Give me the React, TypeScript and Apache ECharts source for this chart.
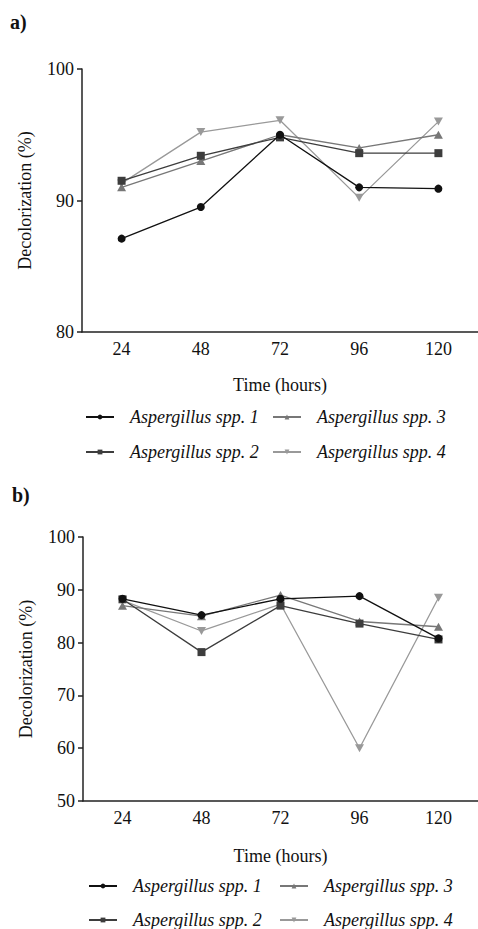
import React, { useEffect, useRef } from "react";
import * as echarts from "echarts";

const hours = ["24", "48", "72", "96", "120"];
const seriesNames = ["Aspergillus spp. 1", "Aspergillus spp. 2", "Aspergillus spp. 3", "Aspergillus spp. 4"];

const aSpp1 = [87.1, 89.5, 95.0, 91.0, 90.9];
const aSpp2 = [91.5, 93.4, 94.8, 93.6, 93.6];
const aSpp3 = [91.0, 93.0, 95.0, 94.0, 95.0];
const aSpp4 = [91.3, 95.2, 96.1, 90.2, 96.0];

const bSpp1 = [88.3, 85.2, 88.3, 88.8, 80.8];
const bSpp2 = [88.2, 78.2, 87.0, 83.6, 80.6];
const bSpp3 = [87.0, 85.0, 89.0, 84.0, 83.0];
const bSpp4 = [88.0, 82.2, 87.3, 60.0, 88.5];

const yTitle = "Decolorization (%)";
const xTitle = "Time (hours)";

const colors = ["#111111", "#3d3d3d", "#777777", "#999999"];
const symbols = ["circle", "rect", "triangle", "path://M0,0 L10,0 L5,9 Z"];
const FONT = "Liberation Serif";

export default function App() {
  const ref = useRef<HTMLDivElement>(null);
  useEffect(() => {
    document.body.style.margin = "0";
    const chart = echarts.init(ref.current!, null, { renderer: "svg" });
    const axisColor = "#222";
    const mkX = (gi: number, gap: number) => ({
      type: "category",
      gridIndex: gi,
      data: hours,
      boundaryGap: true,
      name: xTitle,
      nameLocation: "middle",
      nameGap: gap,
      nameTextStyle: { fontFamily: FONT, fontSize: 18, color: "#111" },
      axisLine: { lineStyle: { color: axisColor, width: 1.5 } },
      axisTick: { alignWithLabel: true, length: 5, lineStyle: { color: axisColor, width: 1.5 } },
      axisLabel: { fontFamily: FONT, fontSize: 18, color: "#111", margin: 8 },
      splitLine: { show: false },
    });
    const mkY = (gi: number, min: number) => ({
      type: "value",
      gridIndex: gi,
      min,
      max: 100,
      interval: 10,
      name: yTitle,
      nameLocation: "middle",
      nameGap: 48,
      nameRotate: 90,
      nameTextStyle: { fontFamily: FONT, fontSize: 18, color: "#111" },
      axisLine: { show: true, lineStyle: { color: axisColor, width: 1.5 } },
      axisTick: { show: true, length: 5, lineStyle: { color: axisColor, width: 1.5 } },
      axisLabel: { fontFamily: FONT, fontSize: 18, color: "#111", margin: 8 },
      splitLine: { show: false },
    });
    const dataA = [aSpp1, aSpp2, aSpp3, aSpp4];
    const dataB = [bSpp1, bSpp2, bSpp3, bSpp4];
    const mkSeries = (data: number[][], gi: number) =>
      data.map((d, i) => ({
        type: "line",
        name: seriesNames[i],
        xAxisIndex: gi,
        yAxisIndex: gi,
        data: d,
        symbol: symbols[i],
        symbolSize: i >= 2 ? [9, 8] : 8,
        lineStyle: { color: colors[i], width: 1.3 },
        itemStyle: { color: colors[i] },
        z: 10 - i,
      }));
    const legendPos = [
      { name: seriesNames[0], left: 85, top: 408 },
      { name: seriesNames[2], left: 272, top: 408 },
      { name: seriesNames[1], left: 85, top: 443 },
      { name: seriesNames[3], left: 272, top: 443 },
      { name: seriesNames[0], left: 88, top: 877 },
      { name: seriesNames[2], left: 279, top: 877 },
      { name: seriesNames[1], left: 88, top: 911 },
      { name: seriesNames[3], left: 279, top: 911 },
    ];
    const legends = legendPos.map((p) => ({
      data: [p.name],
      left: p.left,
      top: p.top,
      padding: 0,
      itemWidth: 28,
      itemHeight: 6,
      selectedMode: false,
      textStyle: { fontFamily: FONT, fontSize: 18, fontStyle: "italic", color: "#111", padding: [0, 0, 0, 11] },
    }));
    chart.setOption({
      animation: false,
      backgroundColor: "#fff",
      textStyle: { fontFamily: FONT },
      grid: [
        { left: 82, top: 69, right: 0, height: 263 },
        { left: 83, top: 537, right: 0, height: 264 },
      ],
      xAxis: [mkX(0, 44), mkX(1, 46)],
      yAxis: [mkY(0, 80), mkY(1, 50)],
      legend: legends,
      series: [...mkSeries(dataA, 0), ...mkSeries(dataB, 1)],
      graphic: [
        { type: "text", left: 10, top: 12, style: { text: "a)", fontFamily: FONT, fontSize: 20, fontWeight: "bold", fill: "#111" } },
        { type: "text", left: 12, top: 485, style: { text: "b)", fontFamily: FONT, fontSize: 20, fontWeight: "bold", fill: "#111" } },
      ],
    });
    return () => chart.dispose();
  }, []);
  return <div ref={ref} style={{ width: 478, height: 929 }} />;
}
